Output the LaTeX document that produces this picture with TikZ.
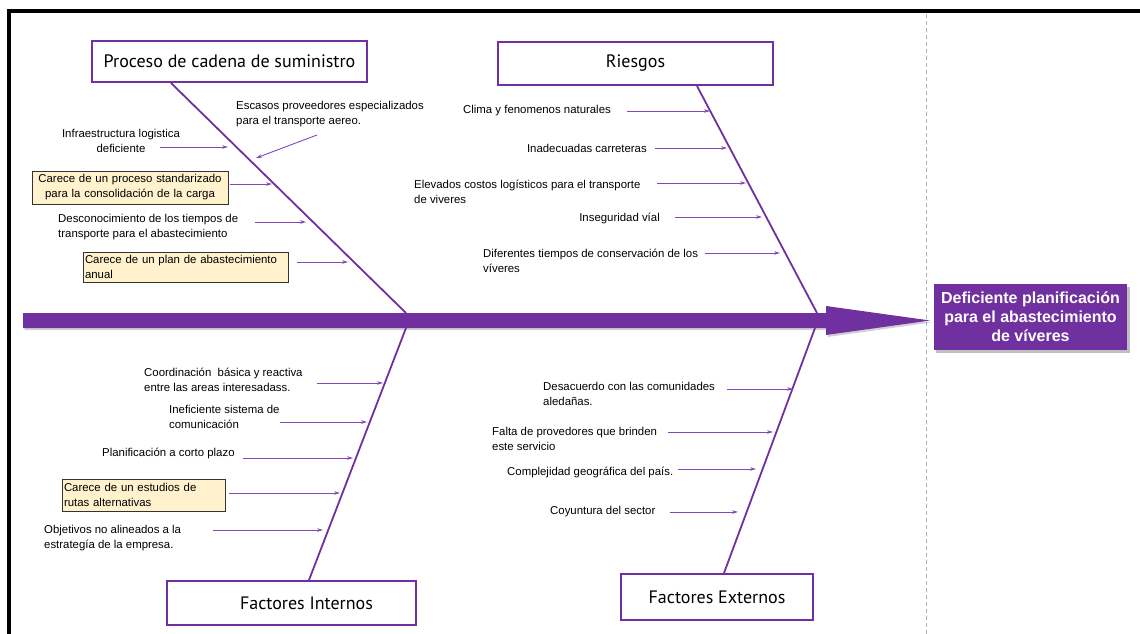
\documentclass[tikz,border=0pt]{standalone}
\usepackage{fontspec}
\setmainfont{Liberation Sans}
\newfontfamily\catfont{PT Sans}
\usetikzlibrary{arrows.meta}
\definecolor{fishpurple}{HTML}{7030A0}
\definecolor{causepurple}{HTML}{8547B8}
\definecolor{notefill}{HTML}{FFF2CC}

\begin{document}
\begin{tikzpicture}[x=1pt,y=-1pt,
  catbox/.style={draw=fishpurple, line width=2pt, fill=white, inner sep=0pt,
    font=\catfont\fontsize{18}{20}\selectfont},
  bone/.style={draw=fishpurple, line width=1.8pt},
  cause/.style={draw=causepurple, line width=0.9pt, -{Stealth[length=6pt,width=3.6pt]}},
  causetext/.style={inner sep=0pt, align=left, anchor=west,
    font=\fontsize{11.4}{15}\selectfont},
  notebox/.style={draw=black!80, fill=notefill, line width=0.8pt, inner sep=2pt,
    font=\fontsize{11.4}{15}\selectfont},
  effect/.style={fill=fishpurple, text=white, font=\bfseries\fontsize{16}{19}\selectfont,
    align=center, minimum width=193pt, minimum height=66pt, inner sep=0pt}
]
\useasboundingbox (0,0) rectangle (1140,634);

% frame and separator
\draw[line width=4pt, line join=miter] (9,634) -- (9,11) -- (1140,11);
\draw[gray!60, line width=1pt, dash pattern=on 4pt off 3pt] (926,14) -- (926,634);

% spine with arrow head
\fill[black, opacity=0.18] (24.5,315) -- (827.5,315) -- (827.5,308) -- (931.5,322.5) -- (827.5,337) -- (827.5,330) -- (24.5,330) -- cycle;
\fill[fishpurple] (23,313) -- (826,313) -- (826,306) -- (930,320.5) -- (826,335) -- (826,328) -- (23,328) -- cycle;

% effect
\fill[black, opacity=0.25] (936,286.5) rectangle (1129.5,352.5);
\node[effect] (effect) at (1030.5,317) {Deficiente planificación\\para el abastecimiento\\de víveres};

% categories
\node[catbox, minimum width=275pt, minimum height=41pt] (pcs) at (229.5,61.5) {Proceso de cadena de suministro};
\node[catbox, minimum width=275pt, minimum height=43pt] (rie) at (635.5,63.5) {Riesgos};
\node[catbox, minimum width=249pt, minimum height=44pt] (fin) at (291.5,603) {\hspace*{30pt}Factores Internos};
\node[catbox, minimum width=192pt, minimum height=46pt] (fex) at (717,597) {Factores Externos};

% bones
\coordinate (jUL) at (406,313);
\coordinate (jUR) at (817,313);
\coordinate (jLL) at (406,328);
\coordinate (jLR) at (815,328);
\draw[bone] ([xshift=80pt]pcs.south west) -- (jUL);
\draw[bone] ([xshift=200pt]rie.south west) -- (jUR);
\draw[bone] ([xshift=143pt]fin.north west) -- (jLL);
\draw[bone] ([xshift=104pt]fex.north west) -- (jLR);

% causes: supply chain process
\node[causetext, align=center, anchor=center] (a1) at (121,141) {Infraestructura logistica\\deficiente};
\coordinate (a1s) at (160,147); \coordinate (a1e) at (228,147);
\draw[cause] (a1s) -- (a1e);
\node[causetext] (a2) at (236,114.5) {Escasos proveedores especializados\\para el transporte aereo.};
\coordinate (a2s) at (317,135); \coordinate (a2e) at (256,158);
\draw[cause] (a2s) -- (a2e);
\node[notebox, text width=192pt, align=center, minimum height=33pt] (a3) at (130,187.5) {Carece de un proceso standarizado\\para la consolidación de la carga};
\coordinate (a3s) at (230,184); \coordinate (a3e) at (272,184);
\draw[cause] (a3s) -- (a3e);
\node[causetext] (a4) at (58,227.5) {Desconocimiento de los tiempos de\\transporte para el abastecimiento};
\coordinate (a4s) at (255,222); \coordinate (a4e) at (306,222);
\draw[cause] (a4s) -- (a4e);
\node[notebox, text width=201pt, align=left, minimum height=30pt] (a5) at (185.5,267) {Carece de un plan de abastecimiento\\anual};
\coordinate (a5s) at (297,262); \coordinate (a5e) at (348,262);
\draw[cause] (a5s) -- (a5e);

% causes: risks
\node[causetext] (b1) at (463,111) {Clima y fenomenos naturales};
\coordinate (b1s) at (627,111); \coordinate (b1e) at (710,111);
\draw[cause] (b1s) -- (b1e);
\node[causetext, anchor=east] (b2) at (647,148) {Inadecuadas carreteras};
\coordinate (b2s) at (655,148); \coordinate (b2e) at (727,148);
\draw[cause] (b2s) -- (b2e);
\node[causetext] (b3) at (414,191.5) {Elevados costos logísticos para el transporte\\de viveres};
\coordinate (b3s) at (657,183); \coordinate (b3e) at (746,183);
\draw[cause] (b3s) -- (b3e);
\node[causetext, anchor=east] (b4) at (660,218) {Inseguridad víal};
\coordinate (b4s) at (675,217); \coordinate (b4e) at (762,217);
\draw[cause] (b4s) -- (b4e);
\node[causetext] (b5) at (483,260.5) {Diferentes tiempos de conservación de los\\víveres};
\coordinate (b5s) at (705,253); \coordinate (b5e) at (780,253);
\draw[cause] (b5s) -- (b5e);

% causes: internal factors
\node[causetext] (c1) at (144,380) {Coordinación \ básica y reactiva\\entre las areas interesadass.};
\coordinate (c1s) at (317,383); \coordinate (c1e) at (383,383);
\draw[cause] (c1s) -- (c1e);
\node[causetext] (c2) at (169,416.5) {Ineficiente sistema de\\comunicación};
\coordinate (c2s) at (280,422); \coordinate (c2e) at (367,422);
\draw[cause] (c2s) -- (c2e);
\node[causetext] (c3) at (102,453) {Planificación a corto plazo};
\coordinate (c3s) at (243,458); \coordinate (c3e) at (353,458);
\draw[cause] (c3s) -- (c3e);
\node[notebox, text width=159pt, align=left, minimum height=32pt] (c4) at (143.5,495) {Carece de un estudios de\\rutas alternativas};
\coordinate (c4s) at (229,493); \coordinate (c4e) at (340,493);
\draw[cause] (c4s) -- (c4e);
\node[causetext] (c5) at (44,538.5) {Objetivos no alineados a la\\estrategía de la empresa.};
\coordinate (c5s) at (213,530); \coordinate (c5e) at (323,530);
\draw[cause] (c5s) -- (c5e);

% causes: external factors
\node[causetext] (d1) at (543,394) {Desacuerdo con las comunidades\\aledañas.};
\coordinate (d1s) at (727,389); \coordinate (d1e) at (793,389);
\draw[cause] (d1s) -- (d1e);
\node[causetext] (d2) at (492,438.5) {Falta de provedores que brinden\\este servicio};
\coordinate (d2s) at (668,432); \coordinate (d2e) at (773,432);
\draw[cause] (d2s) -- (d2e);
\node[causetext] (d3) at (507,472) {Complejidad geográfica del país.};
\coordinate (d3s) at (678,469); \coordinate (d3e) at (756,469);
\draw[cause] (d3s) -- (d3e);
\node[causetext] (d4) at (550,512) {Coyuntura del sector};
\coordinate (d4s) at (670,512); \coordinate (d4e) at (738,512);
\draw[cause] (d4s) -- (d4e);

\end{tikzpicture}
\end{document}
